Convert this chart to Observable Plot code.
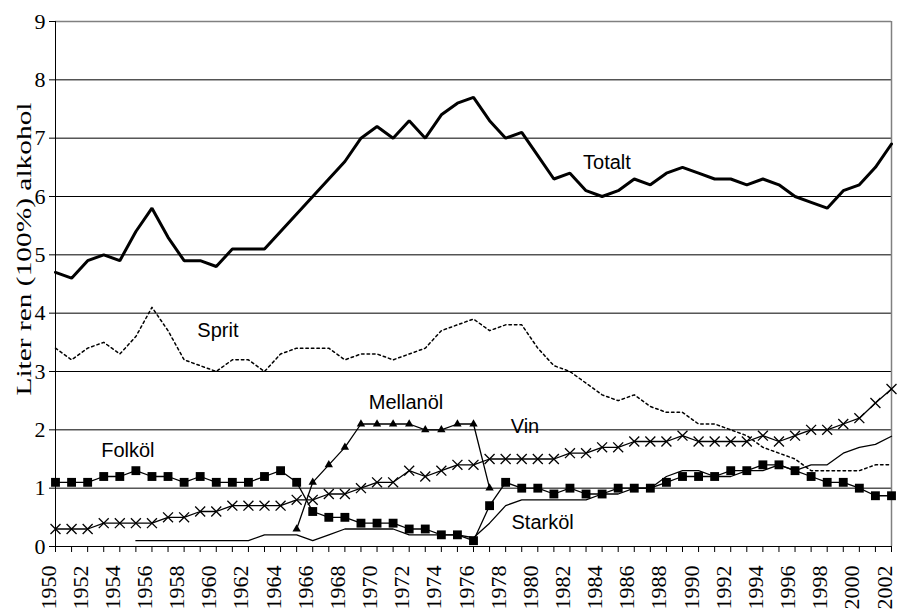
<!DOCTYPE html>
<html><head><meta charset="utf-8">
<script src="https://cdn.jsdelivr.net/npm/d3@7"></script>
<script src="https://cdn.jsdelivr.net/npm/@observablehq/plot@0.6"></script>
<style>
html,body{margin:0;padding:0;background:#fff;}
#chart svg{display:block;}
</style>
</head><body><div id="chart"></div>
<script>
const years = d3.range(1950, 2003);
const labelYears = years.filter(d => d % 2 === 0);
const totalt = [4.7,4.6,4.9,5.0,4.9,5.4,5.8,5.3,4.9,4.9,4.8,5.1,5.1,5.1,5.4,5.7,6.0,6.3,6.6,7.0,7.2,7.0,7.3,7.0,7.4,7.6,7.7,7.3,7.0,7.1,6.7,6.3,6.4,6.1,6.0,6.1,6.3,6.2,6.4,6.5,6.4,6.3,6.3,6.2,6.3,6.2,6.0,5.9,5.8,6.1,6.2,6.5,6.9];
const sprit = [3.4,3.2,3.4,3.5,3.3,3.6,4.1,3.7,3.2,3.1,3.0,3.2,3.2,3.0,3.3,3.4,3.4,3.4,3.2,3.3,3.3,3.2,3.3,3.4,3.7,3.8,3.9,3.7,3.8,3.8,3.4,3.1,3.0,2.8,2.6,2.5,2.6,2.4,2.3,2.3,2.1,2.1,2.0,1.9,1.7,1.6,1.5,1.3,1.3,1.3,1.3,1.4,1.4];
const folkol = [1.1,1.1,1.1,1.2,1.2,1.3,1.2,1.2,1.1,1.2,1.1,1.1,1.1,1.2,1.3,1.1,0.6,0.5,0.5,0.4,0.4,0.4,0.3,0.3,0.2,0.2,0.1,0.7,1.1,1.0,1.0,0.9,1.0,0.9,0.9,1.0,1.0,1.0,1.1,1.2,1.2,1.2,1.3,1.3,1.4,1.4,1.3,1.2,1.1,1.1,1.0,0.87,0.87];
const vin = [0.3,0.3,0.3,0.4,0.4,0.4,0.4,0.5,0.5,0.6,0.6,0.7,0.7,0.7,0.7,0.8,0.8,0.9,0.9,1.0,1.1,1.1,1.3,1.2,1.3,1.4,1.4,1.5,1.5,1.5,1.5,1.5,1.6,1.6,1.7,1.7,1.8,1.8,1.8,1.9,1.8,1.8,1.8,1.8,1.9,1.8,1.9,2.0,2.0,2.1,2.2,2.46,2.7];
const mellanYears = d3.range(1965, 1978);
const mellanol = [0.3,1.1,1.4,1.7,2.1,2.1,2.1,2.1,2.0,2.0,2.1,2.1,1.0];
const starkYears = d3.range(1955, 2003);
const starkol = [0.1,0.1,0.1,0.1,0.1,0.1,0.1,0.1,0.2,0.2,0.2,0.1,0.2,0.3,0.3,0.3,0.3,0.2,0.2,0.2,0.2,0.15,0.4,0.7,0.8,0.8,0.8,0.8,0.8,0.9,0.9,1.0,1.0,1.2,1.3,1.3,1.2,1.2,1.3,1.3,1.4,1.3,1.4,1.4,1.6,1.7,1.75,1.89];
const yTicks = d3.range(0, 10);
const seriesLabels = [
  {name: "Totalt", year: 1984.3, value: 6.58},
  {name: "Sprit", year: 1960.1, value: 3.7},
  {name: "Folköl", year: 1954.5, value: 1.65},
  {name: "Mellanöl", year: 1971.8, value: 2.47},
  {name: "Vin", year: 1979.2, value: 2.06},
  {name: "Starköl", year: 1980.3, value: 0.41}
];
const yTitle = "Liter ren (100%) alkohol";

const toRows = (xs, ys) => xs.map((x, i) => ({year: x, value: ys[i]}));
const T = toRows(years, totalt), S = toRows(years, sprit), F = toRows(years, folkol),
      V = toRows(years, vin), M = toRows(mellanYears, mellanol), K = toRows(starkYears, starkol);

const serif = "'Times New Roman', 'Liberation Serif', Times, serif";
const sans = "'Liberation Sans', Arial, sans-serif";

const chart = Plot.plot({
  width: 904, height: 612,
  marginLeft: 55, marginRight: 13, marginTop: 21, marginBottom: 66,
  style: {background: "#fff", color: "#000", overflow: "visible"},
  x: {domain: [1950, 2002], type: "linear"},
  y: {domain: [0, 9]},
  marks: [
    Plot.ruleY(yTicks.filter(d => d > 0 && d < 9), {stroke: "#000", strokeWidth: 1}),
    Plot.ruleY([9], {stroke: "#808080", strokeWidth: 1.5}),
    Plot.ruleX([2002], {stroke: "#808080", strokeWidth: 1.5}),
    // tick marks only (labels drawn below as text marks)
    Plot.axisY({ticks: yTicks, tickSize: 6, label: null, tickFormat: () => ""}),
    Plot.axisX({ticks: years, tickSize: 6, label: null, tickFormat: () => ""}),
    // tick labels
    Plot.text(yTicks, {y: d => d, text: d => String(d), frameAnchor: "left", dx: -10, textAnchor: "end",
                       fontFamily: serif, fontSize: 22, fill: "#000"}),
    Plot.text(labelYears, {x: d => d, text: d => String(d), frameAnchor: "bottom", dy: 19, rotate: -90,
                           textAnchor: "end", fontFamily: serif, fontSize: 22, fill: "#000"}),
    Plot.ruleX([1950], {stroke: "#000", strokeWidth: 1}),
    Plot.ruleY([0], {stroke: "#000", strokeWidth: 1}),
    Plot.line(S, {x: "year", y: "value", stroke: "#000", strokeWidth: 1.5, strokeDasharray: "2.5,3"}),
    Plot.line(K, {x: "year", y: "value", stroke: "#000", strokeWidth: 1.3}),
    Plot.line(V, {x: "year", y: "value", stroke: "#000", strokeWidth: 1.3}),
    Plot.dot(V, {x: "year", y: "value", symbol: "times", r: 4.6, stroke: "#000", strokeWidth: 1.3}),
    Plot.line(M, {x: "year", y: "value", stroke: "#000", strokeWidth: 1.3}),
    Plot.dot(M, {x: "year", y: "value", symbol: "triangle", r: 3.1, fill: "#000", stroke: "none"}),
    Plot.line(F, {x: "year", y: "value", stroke: "#000", strokeWidth: 1.3}),
    Plot.dot(F, {x: "year", y: "value", symbol: "square", r: 5, fill: "#000", stroke: "none"}),
    Plot.line(T, {x: "year", y: "value", stroke: "#000", strokeWidth: 3, strokeLinejoin: "miter"}),
    Plot.text(seriesLabels, {x: "year", y: "value", text: "name", fontFamily: sans, fontSize: 20, fill: "#000"}),
    Plot.text([yTitle], {frameAnchor: "left", textAnchor: "middle", dx: -31, dy: -35, rotate: -90, fontSize: 21,
                         fill: "#000", fontFamily: serif, className: "ytitle"})
  ]
});
// Stretch the rotated title along its length, as in the reference
d3.select(chart).selectAll(".ytitle text").attr("textLength", 293).attr("lengthAdjust", "spacingAndGlyphs");
document.getElementById("chart").appendChild(chart);
</script>
</body></html>
